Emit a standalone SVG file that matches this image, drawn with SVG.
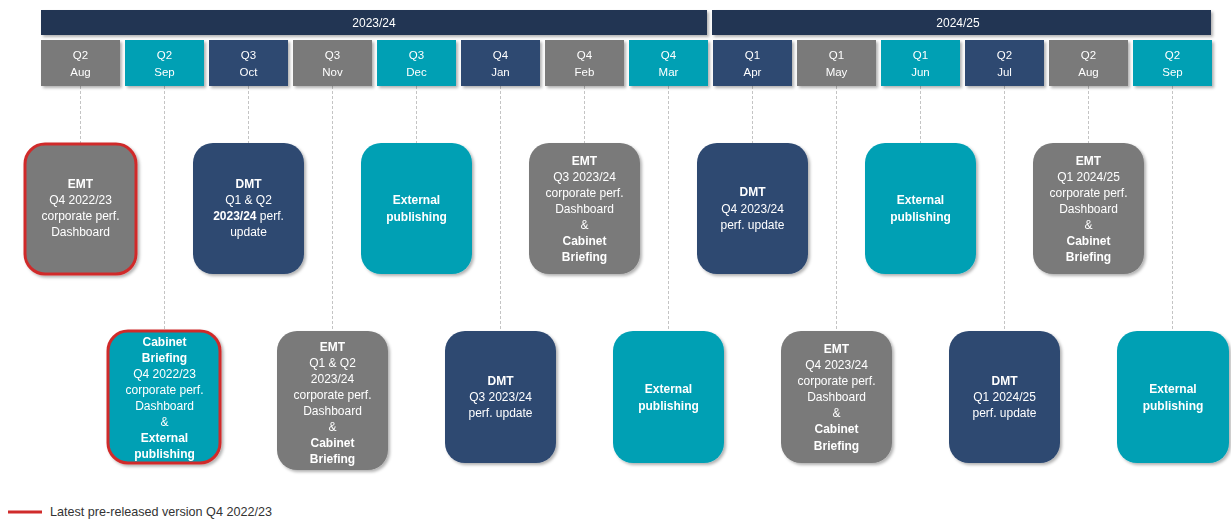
<svg xmlns="http://www.w3.org/2000/svg" width="1231" height="525" viewBox="0 0 1231 525">
<style>
  text { font-family: "Liberation Sans", Arial, sans-serif; fill: #ffffff; text-anchor: middle; }
  .yr { fill: #203452; }
  .yt { font-size: 12px; }
  .mt { font-size: 11.5px; }
  .nt { font-size: 12px; }
  .b { font-weight: bold; }
  .gray { fill: #7a7a7a; }
  .teal { fill: #00a0b4; }
  .navy { fill: #2d4871; }
  .conn { stroke: #c4c4c4; stroke-width: 1; stroke-dasharray: 3 2; fill: none; }
  .hl { stroke: #d02b2b; stroke-width: 3; }
  .legend { fill: #333333; font-size: 12.6px; text-anchor: start; }
</style>
<defs>
  <filter id="sh" x="-10%" y="-10%" width="130%" height="130%">
    <feDropShadow dx="2" dy="2" stdDeviation="1.5" flood-color="#000000" flood-opacity="0.3"/>
  </filter>
</defs>
<rect width="1231" height="525" fill="#ffffff"/>

<g id="connectors">
  <line class="conn" x1="80.5" y1="86" x2="80.5" y2="143"/>
  <line class="conn" x1="248.5" y1="86" x2="248.5" y2="143"/>
  <line class="conn" x1="416.5" y1="86" x2="416.5" y2="143"/>
  <line class="conn" x1="584.5" y1="86" x2="584.5" y2="143"/>
  <line class="conn" x1="752.5" y1="86" x2="752.5" y2="143"/>
  <line class="conn" x1="920.5" y1="86" x2="920.5" y2="143"/>
  <line class="conn" x1="1088.5" y1="86" x2="1088.5" y2="143"/>
  <line class="conn" x1="164.5" y1="86" x2="164.5" y2="331"/>
  <line class="conn" x1="332.5" y1="86" x2="332.5" y2="331"/>
  <line class="conn" x1="500.5" y1="86" x2="500.5" y2="331"/>
  <line class="conn" x1="668.5" y1="86" x2="668.5" y2="331"/>
  <line class="conn" x1="836.5" y1="86" x2="836.5" y2="331"/>
  <line class="conn" x1="1004.5" y1="86" x2="1004.5" y2="331"/>
  <line class="conn" x1="1172.5" y1="86" x2="1172.5" y2="331"/>
</g>

<g id="year-2023-24" filter="url(#sh)">
  <rect class="yr" x="41" y="10" width="666" height="25"/>
  <text class="yt" x="374" y="27">2023/24</text>
</g>
<g id="year-2024-25" filter="url(#sh)">
  <rect class="yr" x="712" y="10" width="499" height="25"/>
  <text class="yt" x="958" y="27">2024/25</text>
</g>

<g id="months">
  <g id="m-aug23" filter="url(#sh)"><rect class="gray" x="41" y="40" width="79" height="46"/><text class="mt" x="80.5" y="59">Q2</text><text class="mt" x="80.5" y="76">Aug</text></g>
  <g id="m-sep23" filter="url(#sh)"><rect class="teal" x="125" y="40" width="79" height="46"/><text class="mt" x="164.5" y="59">Q2</text><text class="mt" x="164.5" y="76">Sep</text></g>
  <g id="m-oct23" filter="url(#sh)"><rect class="navy" x="209" y="40" width="79" height="46"/><text class="mt" x="248.5" y="59">Q3</text><text class="mt" x="248.5" y="76">Oct</text></g>
  <g id="m-nov23" filter="url(#sh)"><rect class="gray" x="293" y="40" width="79" height="46"/><text class="mt" x="332.5" y="59">Q3</text><text class="mt" x="332.5" y="76">Nov</text></g>
  <g id="m-dec23" filter="url(#sh)"><rect class="teal" x="377" y="40" width="79" height="46"/><text class="mt" x="416.5" y="59">Q3</text><text class="mt" x="416.5" y="76">Dec</text></g>
  <g id="m-jan24" filter="url(#sh)"><rect class="navy" x="461" y="40" width="79" height="46"/><text class="mt" x="500.5" y="59">Q4</text><text class="mt" x="500.5" y="76">Jan</text></g>
  <g id="m-feb24" filter="url(#sh)"><rect class="gray" x="545" y="40" width="79" height="46"/><text class="mt" x="584.5" y="59">Q4</text><text class="mt" x="584.5" y="76">Feb</text></g>
  <g id="m-mar24" filter="url(#sh)"><rect class="teal" x="629" y="40" width="79" height="46"/><text class="mt" x="668.5" y="59">Q4</text><text class="mt" x="668.5" y="76">Mar</text></g>
  <g id="m-apr24" filter="url(#sh)"><rect class="navy" x="713" y="40" width="79" height="46"/><text class="mt" x="752.5" y="59">Q1</text><text class="mt" x="752.5" y="76">Apr</text></g>
  <g id="m-may24" filter="url(#sh)"><rect class="gray" x="797" y="40" width="79" height="46"/><text class="mt" x="836.5" y="59">Q1</text><text class="mt" x="836.5" y="76">May</text></g>
  <g id="m-jun24" filter="url(#sh)"><rect class="teal" x="881" y="40" width="79" height="46"/><text class="mt" x="920.5" y="59">Q1</text><text class="mt" x="920.5" y="76">Jun</text></g>
  <g id="m-jul24" filter="url(#sh)"><rect class="navy" x="965" y="40" width="79" height="46"/><text class="mt" x="1004.5" y="59">Q2</text><text class="mt" x="1004.5" y="76">Jul</text></g>
  <g id="m-aug24" filter="url(#sh)"><rect class="gray" x="1049" y="40" width="79" height="46"/><text class="mt" x="1088.5" y="59">Q2</text><text class="mt" x="1088.5" y="76">Aug</text></g>
  <g id="m-sep24" filter="url(#sh)"><rect class="teal" x="1133" y="40" width="79" height="46"/><text class="mt" x="1172.5" y="59">Q2</text><text class="mt" x="1172.5" y="76">Sep</text></g>
</g>

<!-- Top row nodes -->
<g id="n-emt-aug23" filter="url(#sh)">
  <rect class="gray hl" x="25" y="144" width="111" height="130" rx="20"/>
  <text class="nt b" x="80.5" y="188">EMT</text>
  <text class="nt" x="80.5" y="204">Q4 2022/23</text>
  <text class="nt" x="80.5" y="220">corporate perf.</text>
  <text class="nt" x="80.5" y="236">Dashboard</text>
</g>
<g id="n-dmt-oct23" filter="url(#sh)">
  <rect class="navy" x="193" y="143" width="111" height="131" rx="20"/>
  <text class="nt b" x="248.5" y="188">DMT</text>
  <text class="nt" x="248.5" y="204">Q1 &amp; Q2</text>
  <text class="nt" x="248.5" y="220"><tspan class="b">2023/24</tspan> perf.</text>
  <text class="nt" x="248.5" y="236">update</text>
</g>
<g id="n-ext-dec23" filter="url(#sh)">
  <rect class="teal" x="361" y="143" width="111" height="131" rx="20"/>
  <text class="nt b" x="416.5" y="204">External</text>
  <text class="nt b" x="416.5" y="221">publishing</text>
</g>
<g id="n-emt-feb24" filter="url(#sh)">
  <rect class="gray" x="529" y="143" width="111" height="131" rx="20"/>
  <text class="nt b" x="584.5" y="165">EMT</text>
  <text class="nt" x="584.5" y="181">Q3 2023/24</text>
  <text class="nt" x="584.5" y="197">corporate perf.</text>
  <text class="nt" x="584.5" y="213">Dashboard</text>
  <text class="nt" x="584.5" y="229">&amp;</text>
  <text class="nt b" x="584.5" y="245">Cabinet</text>
  <text class="nt b" x="584.5" y="261">Briefing</text>
</g>
<g id="n-dmt-apr24" filter="url(#sh)">
  <rect class="navy" x="697" y="143" width="111" height="131" rx="20"/>
  <text class="nt b" x="752.5" y="196">DMT</text>
  <text class="nt" x="752.5" y="213">Q4 2023/24</text>
  <text class="nt" x="752.5" y="229">perf. update</text>
</g>
<g id="n-ext-jun24" filter="url(#sh)">
  <rect class="teal" x="865" y="143" width="111" height="131" rx="20"/>
  <text class="nt b" x="920.5" y="204">External</text>
  <text class="nt b" x="920.5" y="221">publishing</text>
</g>
<g id="n-emt-aug24" filter="url(#sh)">
  <rect class="gray" x="1033" y="143" width="111" height="131" rx="20"/>
  <text class="nt b" x="1088.5" y="165">EMT</text>
  <text class="nt" x="1088.5" y="181">Q1 2024/25</text>
  <text class="nt" x="1088.5" y="197">corporate perf.</text>
  <text class="nt" x="1088.5" y="213">Dashboard</text>
  <text class="nt" x="1088.5" y="229">&amp;</text>
  <text class="nt b" x="1088.5" y="245">Cabinet</text>
  <text class="nt b" x="1088.5" y="261">Briefing</text>
</g>

<!-- Bottom row nodes -->
<g id="n-cab-sep23" filter="url(#sh)">
  <rect class="teal hl" x="108" y="331" width="112" height="132" rx="20"/>
  <text class="nt b" x="164.5" y="346">Cabinet</text>
  <text class="nt b" x="164.5" y="362">Briefing</text>
  <text class="nt" x="164.5" y="378">Q4 2022/23</text>
  <text class="nt" x="164.5" y="394">corporate perf.</text>
  <text class="nt" x="164.5" y="410">Dashboard</text>
  <text class="nt" x="164.5" y="426">&amp;</text>
  <text class="nt b" x="164.5" y="442">External</text>
  <text class="nt b" x="164.5" y="458">publishing</text>
</g>
<g id="n-emt-nov23" filter="url(#sh)">
  <rect class="gray" x="277" y="331" width="111" height="139" rx="20"/>
  <text class="nt b" x="332.5" y="351">EMT</text>
  <text class="nt" x="332.5" y="367">Q1 &amp; Q2</text>
  <text class="nt" x="332.5" y="383">2023/24</text>
  <text class="nt" x="332.5" y="399">corporate perf.</text>
  <text class="nt" x="332.5" y="415">Dashboard</text>
  <text class="nt" x="332.5" y="431">&amp;</text>
  <text class="nt b" x="332.5" y="447">Cabinet</text>
  <text class="nt b" x="332.5" y="463">Briefing</text>
</g>
<g id="n-dmt-jan24" filter="url(#sh)">
  <rect class="navy" x="445" y="331" width="111" height="132" rx="20"/>
  <text class="nt b" x="500.5" y="385">DMT</text>
  <text class="nt" x="500.5" y="401">Q3 2023/24</text>
  <text class="nt" x="500.5" y="417">perf. update</text>
</g>
<g id="n-ext-mar24" filter="url(#sh)">
  <rect class="teal" x="613" y="331" width="111" height="132" rx="20"/>
  <text class="nt b" x="668.5" y="393">External</text>
  <text class="nt b" x="668.5" y="410">publishing</text>
</g>
<g id="n-emt-may24" filter="url(#sh)">
  <rect class="gray" x="781" y="331" width="111" height="132" rx="20"/>
  <text class="nt b" x="836.5" y="353">EMT</text>
  <text class="nt" x="836.5" y="369">Q4 2023/24</text>
  <text class="nt" x="836.5" y="385">corporate perf.</text>
  <text class="nt" x="836.5" y="401">Dashboard</text>
  <text class="nt" x="836.5" y="417">&amp;</text>
  <text class="nt b" x="836.5" y="433">Cabinet</text>
  <text class="nt b" x="836.5" y="450">Briefing</text>
</g>
<g id="n-dmt-jul24" filter="url(#sh)">
  <rect class="navy" x="949" y="331" width="111" height="132" rx="20"/>
  <text class="nt b" x="1004.5" y="385">DMT</text>
  <text class="nt" x="1004.5" y="401">Q1 2024/25</text>
  <text class="nt" x="1004.5" y="417">perf. update</text>
</g>
<g id="n-ext-sep24" filter="url(#sh)">
  <rect class="teal" x="1117" y="331" width="112" height="132" rx="20"/>
  <text class="nt b" x="1173" y="393">External</text>
  <text class="nt b" x="1173" y="410">publishing</text>
</g>

<g id="legend">
  <line x1="8" y1="512" x2="42" y2="512" stroke="#d02b2b" stroke-width="3"/>
  <text class="legend" x="50" y="516">Latest pre-released version Q4 2022/23</text>
</g>
</svg>
